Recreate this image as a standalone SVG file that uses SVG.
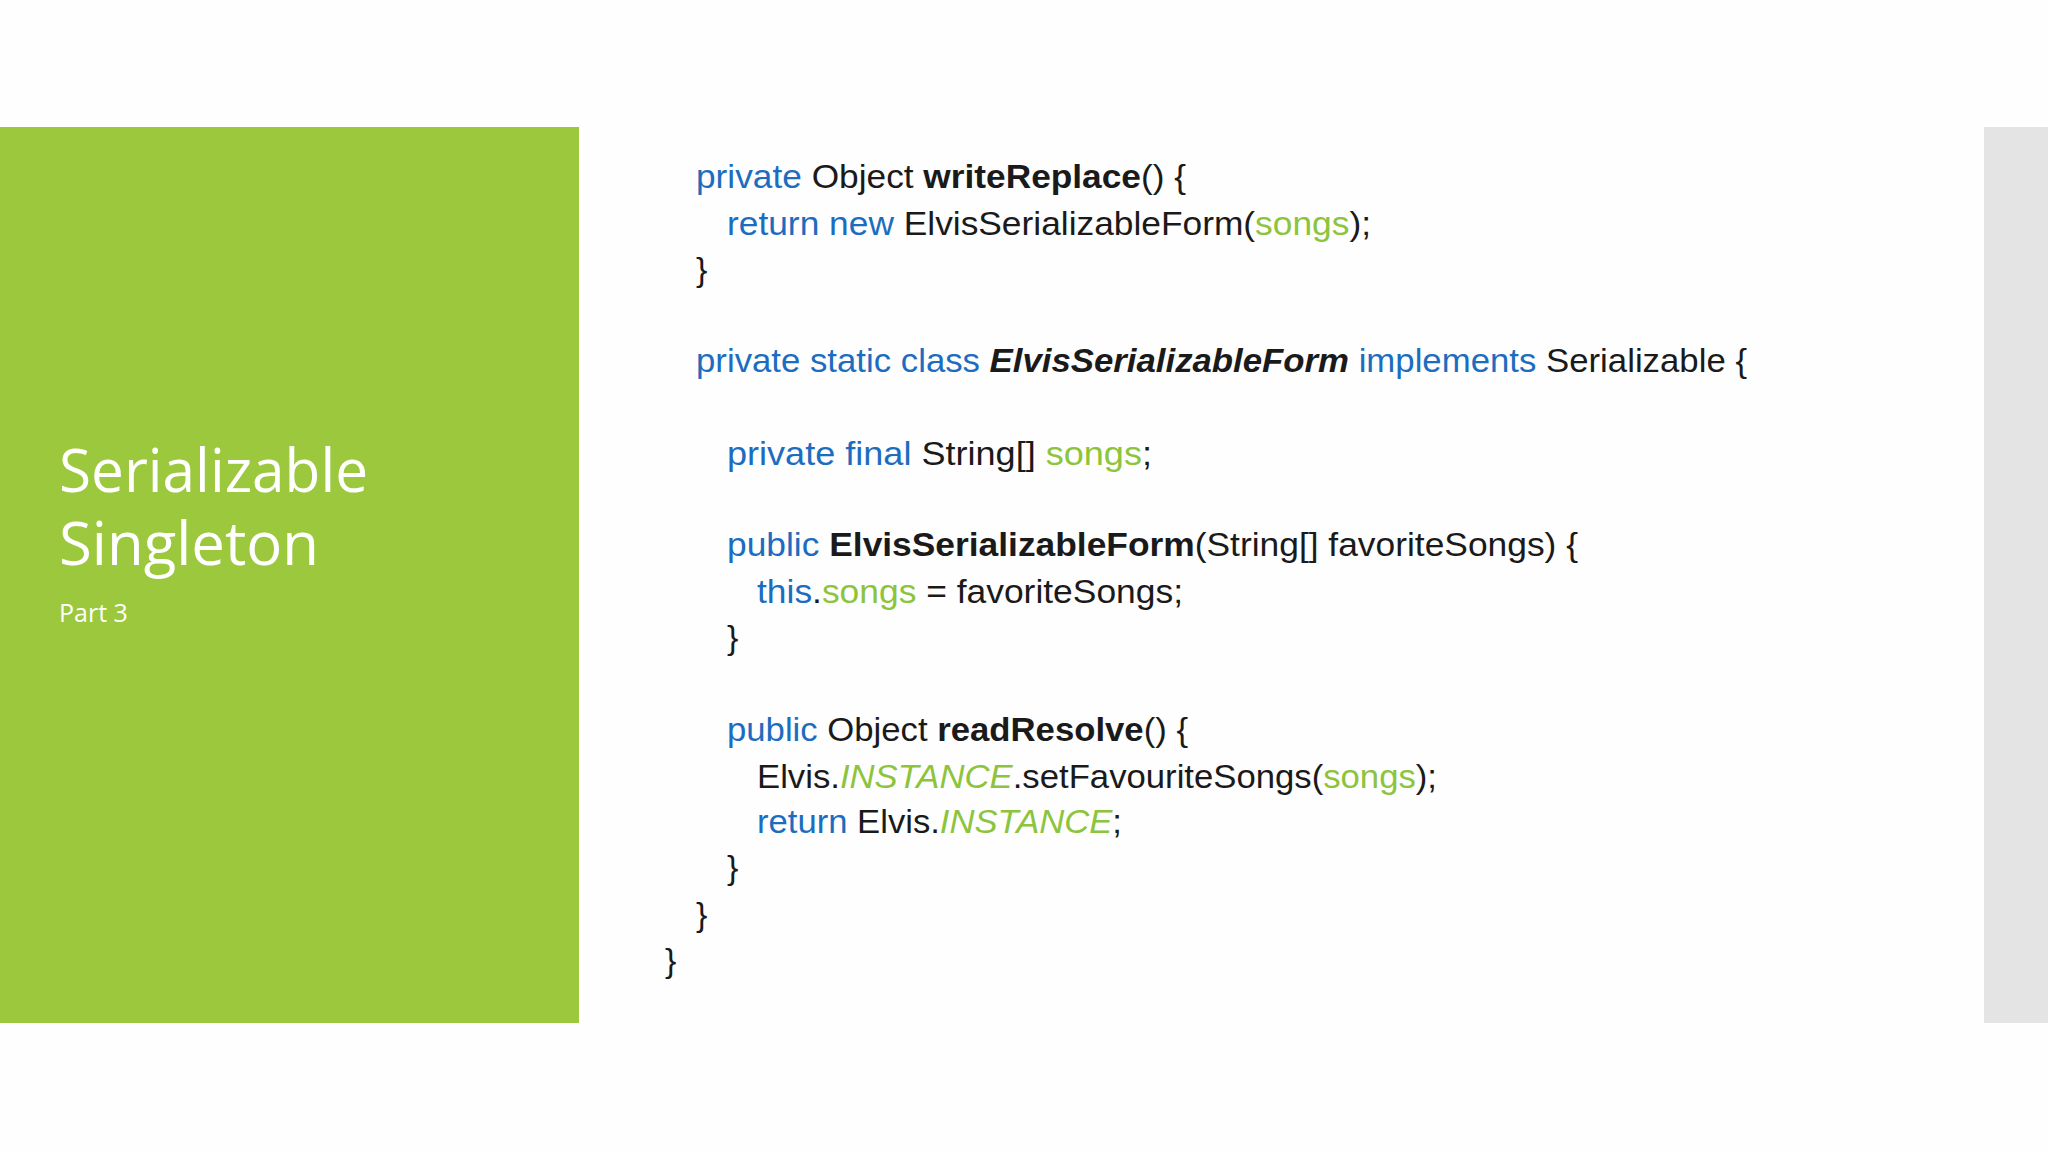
<svg xmlns="http://www.w3.org/2000/svg" width="2048" height="1152" viewBox="0 0 2048 1152">
<style>
.c{font-family:"Liberation Sans",Arial,sans-serif;font-size:34px;fill:#1a1a1a}
.k{fill:#1c6dbf}.g{fill:#8cc43c}.b{font-weight:bold}.i{font-style:italic}
.t{font-family:"Open Sans","Liberation Sans",sans-serif;fill:#fff}
</style>
<rect width="2048" height="1152" fill="#fefefe"/>
<g id="panel"><rect x="0" y="127" width="579" height="896" fill="#9bc83c"/>
<text class="t" x="59" y="492" font-size="60" textLength="309" lengthAdjust="spacingAndGlyphs">Serializable</text>
<text class="t" x="59" y="565" font-size="60" textLength="260" lengthAdjust="spacingAndGlyphs">Singleton</text>
<text class="t" x="59" y="622" font-size="25">Part 3</text></g>
<rect id="strip" x="1984" y="127" width="64" height="896" fill="#e4e4e4"/>
<g id="code" class="c">
<text x="696" y="188" textLength="490" lengthAdjust="spacingAndGlyphs"><tspan class="k">private</tspan> Object <tspan class="b">writeReplace</tspan>() {</text>
<text x="727" y="235" textLength="644" lengthAdjust="spacingAndGlyphs"><tspan class="k">return new</tspan> ElvisSerializableForm(<tspan class="g">songs</tspan>);</text>
<text x="696" y="281">}</text>
<text x="696" y="372" textLength="1051" lengthAdjust="spacingAndGlyphs"><tspan class="k">private static class</tspan> <tspan class="b i">ElvisSerializableForm</tspan> <tspan class="k">implements</tspan> Serializable {</text>
<text x="727" y="465" textLength="425" lengthAdjust="spacingAndGlyphs"><tspan class="k">private final</tspan> String[] <tspan class="g">songs</tspan>;</text>
<text x="727" y="556" textLength="851" lengthAdjust="spacingAndGlyphs"><tspan class="k">public</tspan> <tspan class="b">ElvisSerializableForm</tspan>(String[] favoriteSongs) {</text>
<text x="757" y="603" textLength="426" lengthAdjust="spacingAndGlyphs"><tspan class="k">this</tspan>.<tspan class="g">songs</tspan> = favoriteSongs;</text>
<text x="727" y="649">}</text>
<text x="727" y="741" textLength="461" lengthAdjust="spacingAndGlyphs"><tspan class="k">public</tspan> Object <tspan class="b">readResolve</tspan>() {</text>
<text x="757" y="788" textLength="680" lengthAdjust="spacingAndGlyphs">Elvis.<tspan class="g i">INSTANCE</tspan>.setFavouriteSongs(<tspan class="g">songs</tspan>);</text>
<text x="757" y="833" textLength="365" lengthAdjust="spacingAndGlyphs"><tspan class="k">return</tspan> Elvis.<tspan class="g i">INSTANCE</tspan>;</text>
<text x="727" y="879">}</text>
<text x="696" y="926">}</text>
<text x="665" y="972">}</text>
</g>
</svg>
